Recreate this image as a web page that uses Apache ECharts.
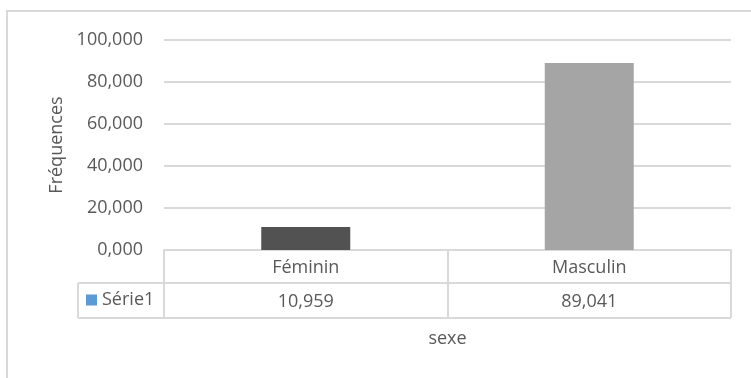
<!DOCTYPE html>
<html>
<head>
<meta charset="utf-8">
<script src="https://cdn.jsdelivr.net/npm/echarts@6/dist/echarts.min.js"></script>
<style>
html,body{margin:0;padding:0;background:#fff;}
#c{width:751px;height:378px;}
</style>
</head>
<body>
<div id="c"></div>
<script>
// ---- data ----
var categories = ['Féminin', 'Masculin'];
var values = [10.959, 89.041];
var seriesName = 'Série1';
var yTicks = { min: 0, max: 100, interval: 20 };
var yName = 'Fréquences';
var xName = 'sexe';

// ---- style ----
var barColors = ['#525252', '#a5a5a5'];
var legendColor = '#5b9bd5';
var lineCol = '#d9d9d9';
var txtCol = '#595959';
var FONT = 'Open Sans';
var FS = 18;

function fmt(v) { return v.toFixed(3).replace('.', ','); }

// layout
var G = { left: 164, right: 20, top: 40, bottom: 128 };
var W = 751, H = 378;
var plotR = W - G.right, baseY = H - G.bottom;
var row1 = 33, row2 = 35;
var tableLeft = 78;

var chart = echarts.init(document.getElementById('c'), null, { renderer: 'canvas' });
chart.setOption({
  animation: false,
  backgroundColor: '#fff',
  textStyle: { fontFamily: FONT, color: txtCol },
  grid: { left: G.left, right: G.right, top: G.top, bottom: G.bottom, containLabel: false },
  legend: {
    data: [seriesName],
    left: 86, top: 291,
    icon: 'rect', itemWidth: 11, itemHeight: 11, itemGap: 5,
    padding: 0,
    textStyle: { fontFamily: FONT, fontSize: FS, color: txtCol }
  },
  xAxis: {
    type: 'category',
    data: categories,
    boundaryGap: true,
    name: xName,
    nameLocation: 'middle',
    nameGap: 80,
    nameTextStyle: { fontFamily: FONT, fontSize: FS, color: txtCol },
    axisLine: { show: true, lineStyle: { color: lineCol, width: 2 } },
    axisTick: { show: true, alignWithLabel: false, length: row1 + row2, lineStyle: { color: lineCol, width: 2 } },
    axisLabel: {
      margin: 1,
      formatter: function (v, i) { return '{a|' + v + '}\n{b|' + fmt(values[i]) + '}'; },
      rich: {
        a: { fontFamily: FONT, fontSize: FS, color: txtCol, lineHeight: row1 },
        b: { fontFamily: FONT, fontSize: FS, color: txtCol, lineHeight: row2 }
      }
    }
  },
  yAxis: {
    type: 'value',
    min: yTicks.min, max: yTicks.max, interval: yTicks.interval,
    name: yName,
    nameLocation: 'middle',
    nameRotate: 90,
    nameGap: 95,
    nameTextStyle: { fontFamily: FONT, fontSize: FS, color: txtCol },
    axisLine: { show: false },
    axisTick: { show: false },
    axisLabel: { margin: 21, fontFamily: FONT, fontSize: FS, color: txtCol, formatter: fmt },
    splitLine: { show: true, lineStyle: { color: lineCol, width: 2 } }
  },
  series: [{
    name: seriesName,
    type: 'bar',
    barWidth: 89,
    itemStyle: { color: legendColor },
    data: values.map(function (v, i) { return { value: v, itemStyle: { color: barColors[i] } }; }),
    z: 3
  }],
  graphic: [
    // outer chart border (top + left)
    { type: 'polyline', shape: { points: [[7, H], [7, 11], [W, 11]] }, style: { stroke: lineCol, lineWidth: 2, fill: null } },
    // data table lines
    { type: 'line', shape: { x1: tableLeft, y1: baseY + row1, x2: plotR, y2: baseY + row1 }, style: { stroke: lineCol, lineWidth: 2 } },
    { type: 'line', shape: { x1: tableLeft, y1: baseY + row1 + row2, x2: plotR, y2: baseY + row1 + row2 }, style: { stroke: lineCol, lineWidth: 2 } },
    { type: 'line', shape: { x1: tableLeft, y1: baseY + row1, x2: tableLeft, y2: baseY + row1 + row2 }, style: { stroke: lineCol, lineWidth: 2 } }
  ]
});
</script>
</body>
</html>
